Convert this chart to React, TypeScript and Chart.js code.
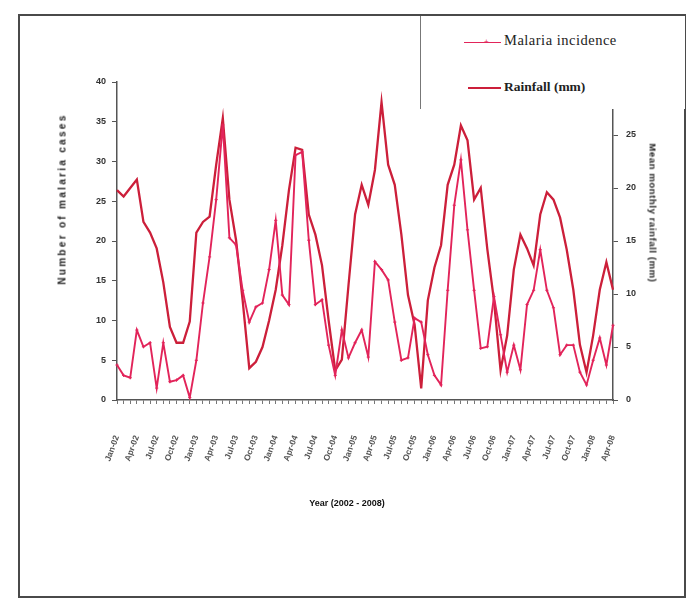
import React, { useEffect, useRef } from "react";
import { Chart, registerables } from "chart.js";

Chart.register(...registerables);

const months: string[] = [
  "Jan-02","Feb-02","Mar-02","Apr-02","May-02","Jun-02","Jul-02","Aug-02","Sep-02","Oct-02","Nov-02","Dec-02",
  "Jan-03","Feb-03","Mar-03","Apr-03","May-03","Jun-03","Jul-03","Aug-03","Sep-03","Oct-03","Nov-03","Dec-03",
  "Jan-04","Feb-04","Mar-04","Apr-04","May-04","Jun-04","Jul-04","Aug-04","Sep-04","Oct-04","Nov-04","Dec-04",
  "Jan-05","Feb-05","Mar-05","Apr-05","May-05","Jun-05","Jul-05","Aug-05","Sep-05","Oct-05","Nov-05","Dec-05",
  "Jan-06","Feb-06","Mar-06","Apr-06","May-06","Jun-06","Jul-06","Aug-06","Sep-06","Oct-06","Nov-06","Dec-06",
  "Jan-07","Feb-07","Mar-07","Apr-07","May-07","Jun-07","Jul-07","Aug-07","Sep-07","Oct-07","Nov-07","Dec-07",
  "Jan-08","Feb-08","Mar-08","Apr-08",
];

const incidence: number[] = [
  4.4, 3.1, 2.8, 8.8, 6.7, 7.2, 1.5, 7.2, 2.3, 2.5, 3.1, 0.3,
  5.0, 12.2, 18.0, 25.2, 34.6, 20.4, 19.5, 13.8, 9.8, 11.7, 12.2, 16.4,
  22.6, 13.2, 12.0, 30.8, 31.2, 20.1, 12.0, 12.6, 6.9, 3.1, 8.8, 5.3,
  7.2, 8.8, 5.4, 17.4, 16.4, 15.1, 9.8, 5.0, 5.3, 10.3, 9.8, 5.7,
  3.1, 1.9, 13.8, 24.5, 30.2, 21.4, 13.8, 6.5, 6.7, 13.0, 8.2, 3.5,
  6.9, 3.8, 12.0, 13.8, 18.9, 13.8, 11.6, 5.7, 6.9, 6.9, 3.5, 1.9,
  5.0, 7.8, 4.4, 9.4,
];

const rainfall: number[] = [
  19.8, 19.2, 20.0, 20.8, 16.8, 15.8, 14.3, 11.1, 6.9, 5.4, 5.4, 7.4,
  15.8, 16.8, 17.3, 22.2, 26.6, 18.9, 15.1, 9.4, 3.0, 3.6, 5.0, 7.5,
  10.4, 14.6, 19.8, 23.8, 23.6, 17.5, 15.6, 12.7, 7.5, 2.8, 3.8, 10.8,
  17.5, 20.3, 18.4, 21.7, 28.1, 22.2, 20.3, 15.6, 9.9, 7.1, 1.1, 9.4,
  12.5, 14.6, 20.3, 22.2, 25.9, 24.5, 18.9, 20.0, 14.2, 9.4, 2.8, 6.1,
  12.3, 15.6, 14.3, 12.7, 17.5, 19.6, 18.9, 17.2, 14.2, 10.4, 5.2, 2.6,
  6.1, 10.4, 13.0, 10.4,
];

const leftTicks: number[] = [0, 5, 10, 15, 20, 25, 30, 35, 40];
const rightTicks: number[] = [0, 5, 10, 15, 20, 25, 30];

const seriesNames = ["Malaria incidence", "Rainfall (mm)"];
const leftTitle = "Number of malaria cases";
const rightTitle = "Mean monthly rainfall (mm)";
const xTitle = "Year (2002 - 2008)";

const PAD_L = 50;
const PAD_R = 20;
const PAD_T = 82;
const PAD_B = 100;
const W = 688;
const H = 604;

export default function App() {
  const ref = useRef<HTMLCanvasElement | null>(null);
  useEffect(() => {
    if (!ref.current) return;
    const tickFont = { family: "'Liberation Sans', Arial, sans-serif", size: 9, weight: "bold" as const };
    const chart = new Chart(ref.current, {
      type: "line",
      data: {
        labels: months,
        datasets: [
          {
            label: seriesNames[0],
            data: incidence,
            yAxisID: "y",
            borderColor: "#e2245a",
            backgroundColor: "#e2245a",
            borderWidth: 1.9,
            pointRadius: 1.6,
            pointStyle: "cross",
            pointBorderWidth: 1,
            tension: 0,
          },
          {
            label: seriesNames[1],
            data: rainfall,
            yAxisID: "y1",
            borderColor: "#cc1f3a",
            backgroundColor: "#cc1f3a",
            borderWidth: 2.3,
            pointRadius: 0,
            tension: 0,
          },
        ],
      },
      options: {
        animation: false,
        responsive: false,
        maintainAspectRatio: false,
        layout: { padding: { left: PAD_L, right: PAD_R, top: PAD_T, bottom: PAD_B } },
        plugins: { legend: { display: false }, tooltip: { enabled: false }, title: { display: false } },
        scales: {
          x: {
            type: "category",
            offset: false,
            grid: { display: true, drawOnChartArea: false, drawTicks: true, tickLength: 4, color: "#777" },
            border: { display: true, color: "#555", width: 1.5 },
            ticks: {
              autoSkip: false,
              maxRotation: 70,
              minRotation: 70,
              padding: 30,
              color: "#555",
              font: { ...tickFont, size: 8.5 },
              callback: (_v: any, i: number) => (i % 3 === 0 ? months[i] : ""),
            },
            afterFit: (s: any) => {
              s.height = H - 400 - PAD_B;
            },
          },
          y: {
            position: "left",
            min: 0,
            max: 40,
            afterBuildTicks: (s: any) => {
              s.ticks = leftTicks.map((v) => ({ value: v }));
            },
            grid: { display: true, drawOnChartArea: false, drawTicks: true, tickLength: 5, color: "#555" },
            border: { display: true, color: "#555", width: 1.5 },
            ticks: { color: "#333", font: tickFont, padding: 6 },
            afterFit: (s: any) => {
              s.width = 117 - PAD_L;
            },
          },
          y1: {
            position: "right",
            min: 0,
            max: 30,
            afterBuildTicks: (s: any) => {
              s.ticks = rightTicks.map((v) => ({ value: v }));
            },
            grid: { display: true, drawOnChartArea: false, drawTicks: true, tickLength: 5, color: "#555" },
            border: { display: true, color: "#555", width: 1.5 },
            ticks: { color: "#333", font: tickFont, padding: 8 },
            afterFit: (s: any) => {
              s.width = W - 613 - PAD_R;
            },
          },
        },
      },
    });
    return () => chart.destroy();
  }, []);

  const serif = "'Liberation Serif', 'Times New Roman', serif";
  const sans = "'Liberation Sans', Arial, sans-serif";

  return (
    <div style={{ position: "fixed", left: 0, top: 0, width: W, height: H, background: "#fff", overflow: "hidden" }}>
      <canvas ref={ref} width={W} height={H} style={{ position: "absolute", left: 0, top: 0, width: W, height: H }} />
      <div
        style={{
          position: "absolute",
          left: 18,
          top: 14,
          width: 668,
          height: 584,
          border: "2px solid #4a4a4a",
          boxSizing: "border-box",
          pointerEvents: "none",
        }}
      />
      <div
        style={{
          position: "absolute",
          left: 420,
          top: 16,
          width: 264,
          height: 93,
          background: "#fff",
          borderLeft: "1px solid #777",
        }}
      >
        <div style={{ position: "absolute", left: 43, top: 26, width: 37, height: 0, borderTop: "1.5px solid #e2245a" }} />
        <div style={{ position: "absolute", left: 63, top: 22, fontSize: 8, lineHeight: "8px", color: "#e2245a", fontFamily: sans }}>+</div>
        <div style={{ position: "absolute", left: 83, top: 16, fontFamily: serif, fontSize: 14.5, color: "#222", whiteSpace: "nowrap", letterSpacing: 0.5 }}>
          {seriesNames[0]}
        </div>
        <div style={{ position: "absolute", left: 47, top: 71, width: 33, height: 0, borderTop: "2.5px solid #cc1f3a" }} />
        <div style={{ position: "absolute", left: 83, top: 63, fontFamily: serif, fontSize: 13.5, fontWeight: "bold", color: "#222", whiteSpace: "nowrap" }}>
          {seriesNames[1]}
        </div>
      </div>
      <div
        style={{
          position: "absolute",
          left: 62,
          top: 199,
          transform: "translate(-50%, -50%) rotate(-90deg)",
          fontFamily: sans,
          fontSize: 10,
          fontWeight: "bold",
          letterSpacing: 2.3,
          color: "#222",
          whiteSpace: "nowrap",
        }}
      >
        {leftTitle}
      </div>
      <div
        style={{
          position: "absolute",
          left: 653,
          top: 213,
          transform: "translate(-50%, -50%) rotate(90deg)",
          fontFamily: sans,
          fontSize: 9.5,
          fontWeight: "bold",
          letterSpacing: 0.6,
          color: "#222",
          whiteSpace: "nowrap",
        }}
      >
        {rightTitle}
      </div>
      <div
        style={{
          position: "absolute",
          left: 347,
          top: 503,
          transform: "translate(-50%, -50%)",
          fontFamily: sans,
          fontSize: 9,
          fontWeight: "bold",
          color: "#111",
          whiteSpace: "nowrap",
        }}
      >
        {xTitle}
      </div>
    </div>
  );
}
